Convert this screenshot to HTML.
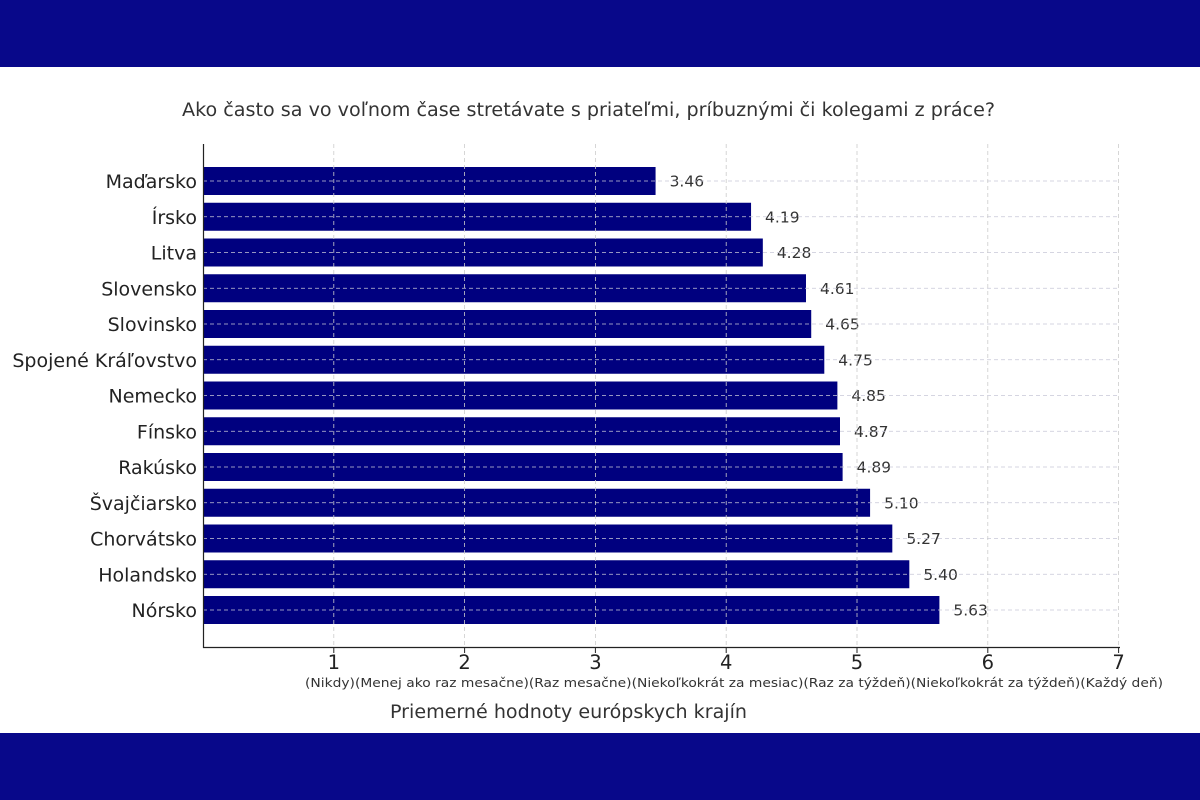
<!DOCTYPE html>
<html><head><meta charset="utf-8"><style>
body{margin:0;width:1200px;height:800px;background:#fff;overflow:hidden}
svg{display:block;font-family:"DejaVu Sans","Liberation Sans",sans-serif}
</style></head><body>
<svg width="1200" height="800" viewBox="0 0 1200 800">
<rect x="0" y="0" width="1200" height="67" fill="#08088a"/>
<rect x="0" y="733" width="1200" height="67" fill="#08088a"/>
<text x="182" y="116" font-size="18.5" fill="#333" textLength="813" lengthAdjust="spacingAndGlyphs">Ako často sa vo voľnom čase stretávate s priateľmi, príbuznými či kolegami z práce?</text>
<g id="bars"></g>
<line x1="203.5" y1="144" x2="203.5" y2="648" stroke="#222" stroke-width="1.2"/>
<line x1="203" y1="647.5" x2="1120" y2="647.5" stroke="#222" stroke-width="1.2"/>
<text x="305" y="687" font-size="12" fill="#333" textLength="858" lengthAdjust="spacingAndGlyphs">(Nikdy)(Menej ako raz mesačne)(Raz mesačne)(Niekoľkokrát za mesiac)(Raz za týždeň)(Niekoľkokrát za týždeň)(Každý deň)</text>
<text x="390" y="718" font-size="18.5" fill="#333" textLength="357" lengthAdjust="spacingAndGlyphs">Priemerné hodnoty európskych krajín</text>
</svg>
<script>
const names=["Maďarsko","Írsko","Litva","Slovensko","Slovinsko","Spojené Kráľovstvo","Nemecko","Fínsko","Rakúsko","Švajčiarsko","Chorvátsko","Holandsko","Nórsko"];
const vals=[3.46,4.19,4.28,4.61,4.65,4.75,4.85,4.87,4.89,5.10,5.27,5.40,5.63];
const x0=203,s=130.8;let h="";
for(let i=0;i<13;i++){const c=181+i*35.75;
h+=`<rect x="${x0}" y="${c-14}" width="${vals[i]*s}" height="28" fill="#00007f"/>`;
h+=`<text x="197" y="${c+7}" font-size="19" fill="#222" text-anchor="end">${names[i]}</text>`;
h+=`<text x="${x0+vals[i]*s+14}" y="${c+5.5}" font-size="15.5" fill="#333">${vals[i].toFixed(2)}</text>`;}
for(let i=0;i<13;i++){const c=181+i*35.75;h+=`<line x1="${x0}" y1="${c}" x2="1120" y2="${c}" stroke="#c8c8d8" stroke-dasharray="4,3" stroke-width="0.8"/>`;}
for(let k=1;k<=7;k++){const x=x0+k*s;
h+=`<line x1="${x}" y1="144" x2="${x}" y2="647" stroke="#ccc" stroke-dasharray="4,3" stroke-width="0.8"/>`;
h+=`<line x1="${x}" y1="647" x2="${x}" y2="653" stroke="#222"/>`;
h+=`<text x="${x}" y="669" font-size="19.5" fill="#222" text-anchor="middle">${k}</text>`;}
document.getElementById("bars").innerHTML=h;
</script>
</body></html>
